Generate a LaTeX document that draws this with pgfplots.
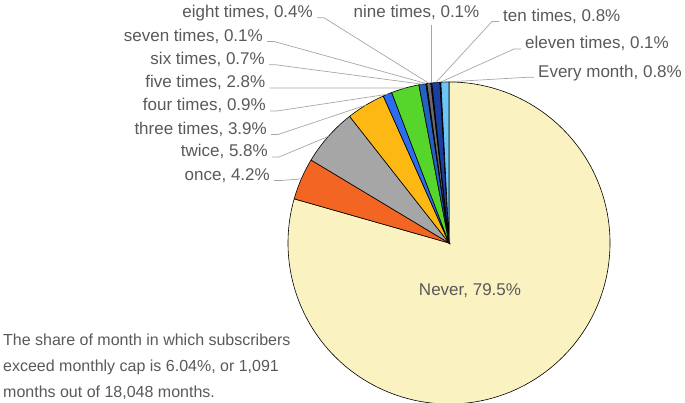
\documentclass[border=0pt]{standalone}
\usepackage{pgfplots}
\pgfplotsset{compat=1.18}
\usepackage{pgfplotstable}
\usepackage{fontspec}
\setmainfont{Liberation Sans}

\definecolor{cNever}{HTML}{FBF2C1}
\definecolor{cOnce}{HTML}{F36523}
\definecolor{cTwice}{HTML}{A6A6A6}
\definecolor{cThree}{HTML}{FDB813}
\definecolor{cFour}{HTML}{2C6CF0}
\definecolor{cFive}{HTML}{56D62A}
\definecolor{cSix}{HTML}{2462C2}
\definecolor{cSeven}{HTML}{4D4D4D}
\definecolor{cEight}{HTML}{6B6B6B}
\definecolor{cNine}{HTML}{5A4A30}
\definecolor{cTen}{HTML}{1B3FA0}
\definecolor{cEleven}{HTML}{3A3A3A}
\definecolor{cEvery}{HTML}{6EC5F5}
\definecolor{txt}{HTML}{595959}
\definecolor{lead}{HTML}{A6A6A6}

% label, value (%), colour, label side, label x, label baseline y (pixels from top)
\pgfplotstableread[col sep=comma]{
label,value,color,side,tx,ty
Never,79.5,cNever,C,470,295.7
once,4.2,cOnce,L,270,180.5
twice,5.8,cTwice,L,268,157
three times,3.9,cThree,L,267,134.5
four times,0.9,cFour,L,266,111
five times,2.8,cFive,L,265.5,88
six times,0.7,cSix,L,265,64.8
seven times,0.1,cSeven,L,263,41.5
eight times,0.4,cEight,L,313,17.8
nine times,0.1,cNine,N,416.5,17.8
ten times,0.8,cTen,R,503,21.5
eleven times,0.1,cEleven,R,525,49
Every month,0.8,cEvery,R,538,77.3
}\piedata

\tikzset{
  lab/.style={font=\fontsize{17}{20}\selectfont, text=txt, inner sep=0pt},
  foot/.style={font=\fontsize{16}{26}\selectfont, text=txt, inner sep=0pt, anchor=base west},
  leader/.style={draw=lead, line width=0.7pt},
}

\begin{document}
\begin{tikzpicture}
\path[use as bounding box] (0,0) rectangle (685pt,403pt);
\clip (0,0) rectangle (685pt,403pt);
\begin{axis}[hide axis, scale only axis, width=685pt, height=403pt,
  xmin=0, xmax=685, ymin=0, ymax=403, clip=false]
\pgfplotstablegetrowsof{\piedata}
\pgfmathtruncatemacro\pieN{\pgfplotsretval-1}
\def\pietot{0}
\pgfplotsforeachungrouped \i in {0,...,\pieN}{%
  \pgfplotstablegetelem{\i}{value}\of\piedata
  \pgfmathsetmacro\pietot{\pietot+\pgfplotsretval}%
}
\def\sL{L}\def\sR{R}\def\sN{N}\def\sC{C}
\def\piecum{0}
\pgfplotsforeachungrouped \i in {0,...,\pieN}{%
  \pgfplotstablegetelem{\i}{value}\of\piedata \edef\pieval{\pgfplotsretval}%
  \pgfplotstablegetelem{\i}{color}\of\piedata \edef\piecol{\pgfplotsretval}%
  \pgfplotstablegetelem{\i}{label}\of\piedata \edef\pielab{\pgfplotsretval}%
  \pgfplotstablegetelem{\i}{side}\of\piedata \edef\pieside{\pgfplotsretval}%
  \pgfplotstablegetelem{\i}{tx}\of\piedata \edef\pietx{\pgfplotsretval}%
  \pgfplotstablegetelem{\i}{ty}\of\piedata \edef\piety{\pgfplotsretval}%
  \pgfmathsetmacro\angA{90-\piecum/\pietot*360}%
  \pgfmathsetmacro\angM{90-(\piecum+\pieval/2)/\pietot*360}%
  \pgfmathsetmacro\piecum{\piecum+\pieval}%
  \pgfmathsetmacro\angB{90-\piecum/\pietot*360}%
  \pgfmathsetmacro\pieyy{403-\piety}%
  \pgfmathsetmacro\piepx{449+161*cos(\angM)}%
  \pgfmathsetmacro\txa{\pietx+4}%
  \pgfmathsetmacro\txb{\pietx+11}%
  \pgfmathsetmacro\txc{\pietx-4}%
  \pgfmathsetmacro\txd{\pietx-11}%
  \edef\temp{\noexpand\draw[fill=\piecol, draw=black, line width=0.6pt]
    (axis cs:449,160) -- ++(\angA:161pt) arc[start angle=\angA, end angle=\angB, radius=161pt] -- cycle;}%
  \temp
  \ifx\pieside\sC
    \edef\temp{\noexpand\node[lab, anchor=base] at (axis cs:\pietx,\pieyy) {\pielab, \pieval\noexpand\%};}%
    \temp
  \fi
  \ifx\pieside\sL
    \edef\temp{\noexpand\draw[leader] (axis cs:449,160) ++(\angM:161pt) -- (axis cs:\txb,\pieyy) -- (axis cs:\txa,\pieyy);
      \noexpand\node[lab, anchor=base east] at (axis cs:\pietx,\pieyy) {\pielab, \pieval\noexpand\%};}%
    \temp
  \fi
  \ifx\pieside\sR
    \edef\temp{\noexpand\draw[leader] (axis cs:449,160) ++(\angM:161pt) -- (axis cs:\txd,\pieyy) -- (axis cs:\txc,\pieyy);
      \noexpand\node[lab, anchor=base west] at (axis cs:\pietx,\pieyy) {\pielab, \pieval\noexpand\%};}%
    \temp
  \fi
  \ifx\pieside\sN
    \edef\temp{\noexpand\draw[leader] (axis cs:449,160) ++(\angM:161pt) -- (axis cs:\piepx,378);
      \noexpand\node[lab, anchor=base] at (axis cs:\pietx,\pieyy) {\pielab, \pieval\noexpand\%};}%
    \temp
  \fi
}
\node[foot] at (axis cs:3,57.3) {The share of month in which subscribers};
\node[foot] at (axis cs:3,31.3) {exceed monthly cap is 6.04\%, or 1,091};
\node[foot] at (axis cs:3,5.3) {months out of 18,048 months.};
\end{axis}
\end{tikzpicture}
\end{document}
